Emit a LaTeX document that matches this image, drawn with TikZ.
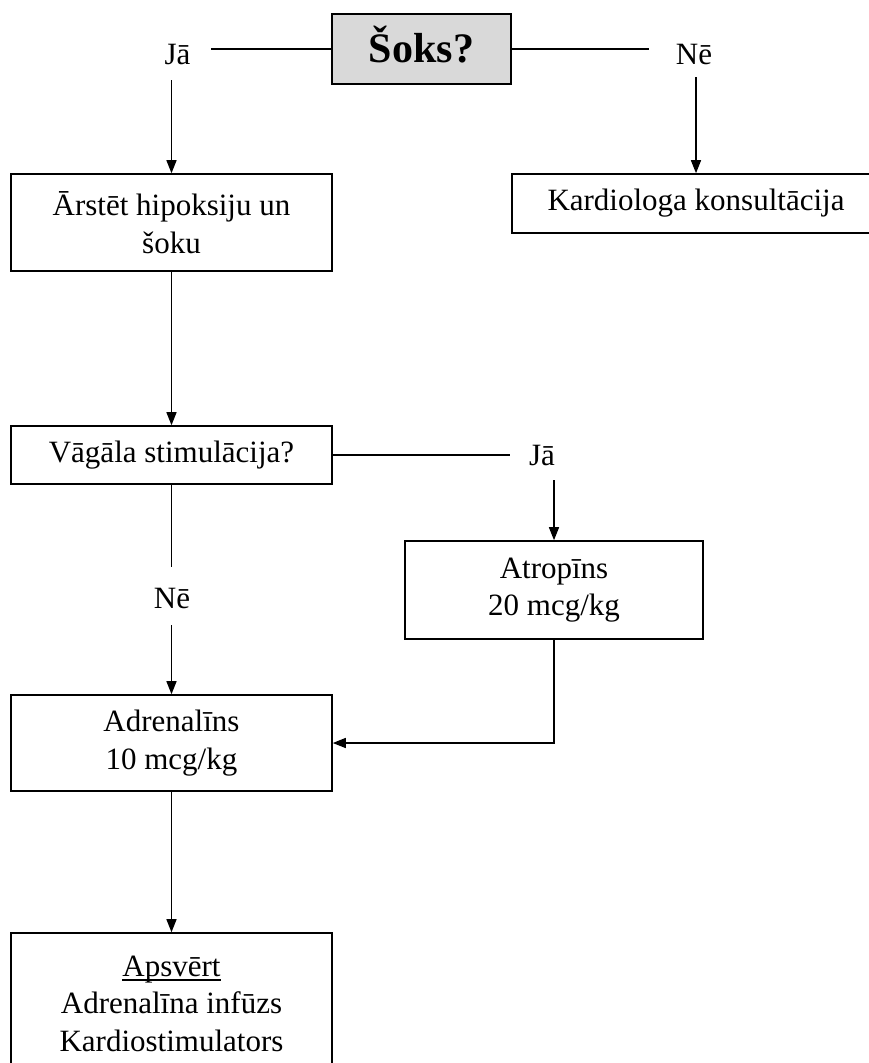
\documentclass[tikz,border=0pt]{standalone}
\usepackage{fontspec}
\setmainfont{Liberation Serif}
\usetikzlibrary{arrows.meta}
\newcommand\myul[1]{\setbox0\hbox{#1}\rlap{\rule[-5pt]{\wd0}{2pt}}\box0}
\begin{document}
\begin{tikzpicture}[x=1pt,y=-1pt,
  txt/.style={font=\fontsize{31}{37.5}\selectfont},
  box/.style={draw, line width=1.6pt, rectangle, inner sep=0pt, align=center, txt},
  lbl/.style={inner sep=0pt, anchor=base, txt},
  conn/.style={line width=1.5pt},
  arr/.style={conn, -{Triangle[length=13pt,width=10pt]}}]
\useasboundingbox (0,0) rectangle (869,1063);
% boxes
\node[box, fill=gray!30, minimum width=179pt, minimum height=70pt,
      font=\fontsize{42}{50}\selectfont\bfseries, text height=26pt, text depth=0pt] (soks) at (421.5,49) {Šoks?};
\node[box, minimum width=321pt, minimum height=97pt] (art) at (171.5,222.5) {Ārstēt hipoksiju un\\šoku};
\node[box, minimum width=368pt, minimum height=59pt] (kard) at (696,203.5) {Kardiologa konsultācija};
\node[box, minimum width=321pt, minimum height=58pt] (vag) at (171.5,455) {Vāgāla stimulācija?};
\node[box, minimum width=298pt, minimum height=98pt] (atr) at (554,590) {Atropīns\\20 mcg/kg};
\node[box, minimum width=321pt, minimum height=96pt] (adr) at (171.5,743) {Adrenalīns\\10 mcg/kg};
\node[box, minimum width=321pt, minimum height=141pt] (aps) at (171.5,1003.5) {\myul{Apsvērt}\\Adrenalīna infūzs\\Kardiostimulators};
% labels
\node[lbl] (ja1) at (177.5,64) {Jā};
\node[lbl] (ne1) at (694,64) {Nē};
\node[lbl] (ja2) at (542,465) {Jā};
\node[lbl] (ne2) at (172,608) {Nē};
% connectors
\draw[conn, shorten >=20.5pt] (soks.west) -- (soks.west -| ja1.east);
\draw[conn, shorten >=27pt] (soks.east) -- (soks.east -| ne1.west);
\draw[arr, shorten <=16pt] (ja1.base -| art.north) -- (art.north);
\draw[arr, shorten <=13pt] (ne1.base -| kard.north) -- (kard.north);
\draw[arr] (art.south) -- (vag.north);
\draw[conn, shorten >=19pt] (vag.east) -- (vag.east -| ja2.west);
\draw[arr, shorten <=15pt] (ja2.base -| atr.north) -- (atr.north);
\draw[conn, shorten >=21pt] (vag.south) -- (vag.south |- ne2.north);
\draw[arr, shorten <=17pt] (ne2.base -| adr.north) -- (adr.north);
\draw[arr] (atr.south) |- (adr.east);
\draw[arr] (adr.south) -- (aps.north);
\end{tikzpicture}
\end{document}
